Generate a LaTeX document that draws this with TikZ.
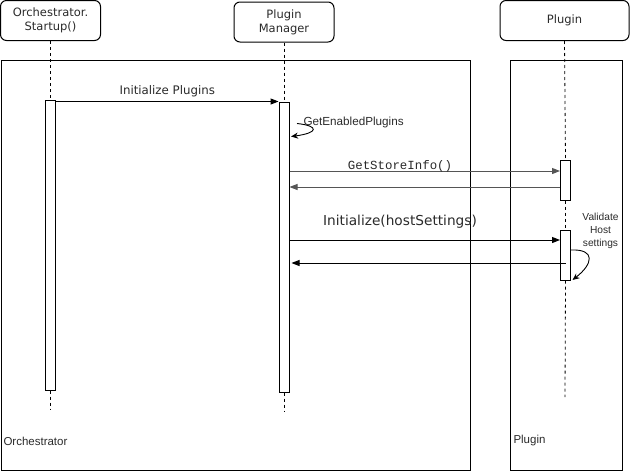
\documentclass[tikz,border=0pt]{standalone}
\usepackage{fontspec}
\usetikzlibrary{arrows.meta,calc}
\newfontfamily\dvs{DejaVu Sans}
\newfontfamily\lsans{Liberation Sans}
\newfontfamily\lmono{Liberation Mono}
\definecolor{txt}{HTML}{2A2A2A}
\definecolor{greyline}{HTML}{555555}
\begin{document}
\begin{tikzpicture}[x=1pt,y=-1pt,line width=1pt,
  header/.style={draw,rounded corners=6pt,align=center,inner sep=0pt,
    minimum height=40pt,text=txt,font=\dvs\fontsize{11.5}{14}\selectfont},
  frame/.style={draw,inner sep=0pt,anchor=north west},
  bar/.style={draw,fill=white,inner sep=0pt,minimum width=10pt},
  life/.style={dash pattern=on 3pt off 3pt,line width=0.8pt},
  msg/.style={-{Triangle[length=8pt,width=6pt]}},
  selfmsg/.style={-{Stealth[length=7pt,width=6pt]},line width=0.9pt},
  lbl/.style={inner sep=0pt,text=txt}]
\useasboundingbox (0,0) rectangle (631,471);

% outer frames
\node[frame,minimum width=469.5pt,minimum height=409.5pt] (of) at (0.5,60) {};
\node[frame,minimum width=111.5pt,minimum height=409.5pt] (pf) at (510,60) {};
\node[lbl,anchor=west,font=\lsans\fontsize{11.5}{13}\selectfont] (oflbl) at (3,441) {Orchestrator};
\node[lbl,anchor=west,font=\lsans\fontsize{11.5}{13}\selectfont] (pflbl) at (513,441) {Plugin};

% participants
\node[header,minimum width=100pt] (o) at (50.5,20.5) {Orchestrator.\\Startup()};
\node[header,minimum width=100pt] (pm) at (284,22) {Plugin\\Manager};
\node[header,minimum width=129pt] (p) at (564.5,20.5) {Plugin};

% activation bars
\node[bar,minimum height=290pt] (oa) at (50.5,245) {};
\node[bar,minimum height=290pt] (pma) at (284,247) {};
\node[bar,minimum height=40pt] (pa1) at (565.5,180) {};
\node[bar,minimum height=50pt] (pa2) at (565.5,255) {};

% lifeline ends
\coordinate (oend) at (50.5,410);
\coordinate (pmend) at (284,412);
\coordinate (pend) at (565,397);

% lifelines
\draw[life] (o.south) -- (oa.north);
\draw[life] (oa.south) -- (oend);
\draw[life] (pm.south) -- (pma.north);
\draw[life] (pma.south) -- (pmend);
\draw[life] (p.south) -- (pa1.north);
\draw[life] (pa1.south) -- (pa2.north);
\draw[life] (pa2.south) -- (pend);

% message rows
\coordinate (r1) at (0,171);
\coordinate (r2) at (0,187);
\coordinate (r3) at (0,240);
\coordinate (r4) at (0,263);

% Initialize Plugins
\draw[msg] (oa.east |- pma.north) -- (pma.north west)
  node[lbl,midway,above=4pt,font=\dvs\fontsize{11.8}{14}\selectfont] (m0) {Initialize Plugins};

% GetEnabledPlugins self call
\coordinate (s1a) at (297,123.5);
\coordinate (s1b) at (291,136.5);
\draw[selfmsg] (s1a) .. controls (320,126) and (318,133) .. (s1b);
\node[lbl,anchor=west,font=\lsans\fontsize{11.7}{13}\selectfont] (gep) at (303,122.5) {GetEnabledPlugins};

% GetStoreInfo()
\draw[msg,greyline] (pma.east |- r1) -- (pa1.west |- r1);
\node[lbl,font=\lmono\fontsize{12.4}{14}\selectfont,anchor=base] (gsi) at (400,169.5) {GetStoreInfo()};
\draw[msg,greyline] (pa1.west |- r2) -- (pma.east |- r2);

% Initialize(hostSettings)
\draw[msg] (pma.east |- r3) -- (pa2.west |- r3);
\node[lbl,font=\dvs\fontsize{13.7}{16}\selectfont] (ihs) at (400,222) {Initialize(hostSettings)};
\draw[msg] (pa2.center |- r4) -- ($(pma.east |- r4)+(2,0)$);

% Validate Host settings self call
\coordinate (s2a) at (571,250);
\coordinate (s2b) at (572.5,280);
\draw[selfmsg] (s2a) .. controls (596,249) and (593,264) .. (s2b);
\node[lbl,align=center,font=\lsans\fontsize{10.2}{13}\selectfont] (vhs) at (600.5,231) {Validate\\Host\\settings};
\end{tikzpicture}
\end{document}
